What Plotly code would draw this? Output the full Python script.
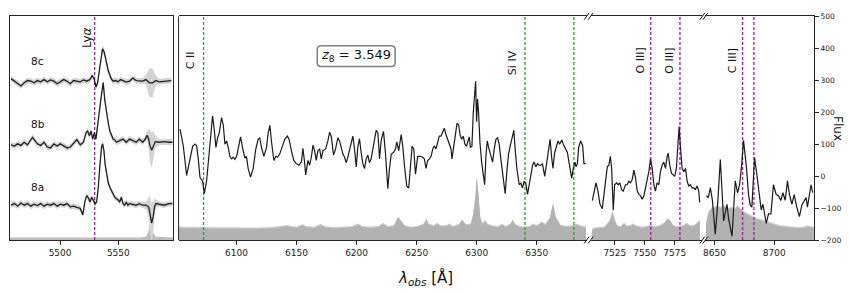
import plotly.graph_objects as go

W, H = 849, 294

# ---------------- data ----------------
left_ticks = [5500, 5550]
seg1_ticks = [6100, 6150, 6200, 6250, 6300, 6350]
seg2_ticks = [7525, 7550, 7575]
seg3_ticks = [8650, 8700]
flux_ticks = [-200, -100, 0, 100, 200, 300, 400, 500]

redshift_label = "3.549"
lya_line = 5529.7
green_lines = [6072.6, 6340.2, 6380.9]
purple_lines_seg2 = [7555.0, 7579.4]
purple_lines_seg3 = [8673.5, 8683.0]

# left panel spectra (relative flux) and offsets
lam_8c = [5457.9, 5460.7, 5463.6, 5466.4, 5469.2, 5472.0, 5474.9, 5477.7, 5480.5, 5483.3,
          5486.2, 5489.0, 5491.8, 5494.6, 5497.5, 5500.3, 5503.1, 5506.0, 5508.8, 5511.6,
          5514.4, 5517.2, 5520.1, 5522.9, 5525.7, 5527.7, 5529.4, 5530.8, 5532.2, 5533.6,
          5535.0, 5536.4, 5537.9, 5539.3, 5541.2, 5543.5, 5545.5, 5547.5, 5549.7, 5552.0,
          5554.2, 5556.8, 5559.6, 5562.4, 5565.3, 5568.1, 5570.9, 5573.7, 5576.6, 5579.4,
          5582.2, 5585.0, 5589.3, 5593.5, 5595.5]
flux_8c = [8, 0, -8, -15, -5, 2, 0, -5, 2, -2,
           5, -2, 4, 0, -8, -2, 5, 0, -8, 2,
           0, -2, 4, 0, 5, 18, 5, -18, -5, 30,
           76, 101, 91, 66, 35, 10, 0, 2, -2, 5,
           2, -3, 0, 10, 2, 0, 0, 5, -5, -5,
           2, -2, 0, 0, 2]
err_8c = [9, 9, 9, 9, 9, 9, 9, 9, 9, 9,
          9, 9, 9, 9, 9, 9, 9, 9, 9, 9,
          9, 9, 9, 9, 9, 9, 9, 9, 9, 10,
          12, 12, 12, 11, 10, 9, 9, 9, 9, 9,
          9, 9, 9, 9, 9, 9, 10, 15, 45, 45,
          15, 9, 9, 9, 9]

lam_8b = [5457.9, 5460.8, 5463.6, 5466.4, 5469.2, 5472.1, 5473.5, 5476.3, 5477.7, 5480.5,
          5483.4, 5486.2, 5489.0, 5491.8, 5494.7, 5497.5, 5500.3, 5503.1, 5506.0, 5508.8,
          5511.6, 5514.4, 5517.3, 5520.1, 5522.3, 5523.7, 5525.2, 5526.6, 5528.0, 5529.4,
          5530.8, 5532.8, 5534.2, 5535.6, 5537.0, 5538.4, 5539.9, 5541.3, 5542.7, 5544.1,
          5545.5, 5546.9, 5548.3, 5551.2, 5554.0, 5556.8, 5559.6, 5562.5, 5565.3, 5568.1,
          5570.9, 5573.2, 5574.6, 5576.0, 5577.1, 5578.6, 5580.0, 5581.7, 5585.1, 5589.3,
          5593.5, 5596.4]
flux_8b = [-8, -12, -5, -10, 0, -8, 0, 15, 8, -5,
           -10, 0, -15, -18, -5, -12, -5, -12, -18, -15,
           -5, 8, -8, 0, 30, 35, 20, 35, 10, 30,
           10, 60, 111, 151, 187, 131, 91, 61, 35, 20,
           10, 8, 0, 5, 10, 0, 10, 5, 0, 10,
           0, 10, 22, 10, -10, -25, -10, 2, 0, 2,
           0, 0]
err_8b = [9, 9, 9, 9, 9, 9, 9, 9, 9, 9,
          9, 9, 9, 9, 9, 9, 9, 9, 9, 9,
          9, 9, 9, 9, 9, 9, 9, 9, 9, 9,
          10, 12, 12, 12, 12, 11, 10, 9, 9, 9,
          9, 9, 9, 9, 9, 9, 9, 9, 9, 9,
          9, 10, 15, 30, 50, 55, 45, 20, 9, 9,
          9, 9]

lam_8a = [5457.9, 5460.8, 5463.6, 5466.4, 5469.2, 5472.1, 5474.9, 5477.7, 5480.5, 5483.4,
          5486.2, 5489.0, 5491.8, 5494.7, 5497.5, 5500.3, 5503.1, 5506.0, 5508.8, 5511.6,
          5514.4, 5517.3, 5519.5, 5521.5, 5522.9, 5524.3, 5525.7, 5527.1, 5528.6, 5530.0,
          5531.4, 5532.8, 5534.2, 5535.6, 5536.5, 5537.6, 5538.7, 5539.9, 5541.3, 5542.7,
          5544.1, 5545.5, 5546.9, 5548.3, 5549.7, 5551.2, 5552.6, 5554.0, 5555.4, 5556.8,
          5558.2, 5559.6, 5562.5, 5565.3, 5568.1, 5570.9, 5573.7, 5576.0, 5577.1, 5578.6,
          5580.0, 5581.1, 5582.3, 5585.1, 5589.3, 5593.5, 5596.4]
flux_8a = [0, 5, -3, 7, 0, 5, -3, 3, -1, 5,
           -3, 3, 0, 5, -3, 3, 0, 5, -5, -3,
           -7, -10, -30, 15, 30, 23, 10, 25, 15, 5,
           10, 56, 126, 182, 192, 172, 126, 96, 71, 56,
           45, 35, 25, 20, 17, 10, 25, 5, 0, 10,
           0, 5, 3, 0, 5, 0, 0, -5, -25, -56,
           -35, -5, 5, 3, 0, 5, 5]
err_8a = [9, 9, 9, 9, 9, 9, 9, 9, 9, 9,
          9, 9, 9, 9, 9, 9, 9, 9, 9, 9,
          9, 9, 9, 9, 9, 9, 9, 9, 9, 9,
          10, 12, 12, 12, 12, 12, 11, 10, 9, 9,
          9, 9, 9, 9, 9, 9, 9, 9, 9, 9,
          9, 9, 9, 9, 9, 9, 12, 30, 55, 60,
          50, 25, 12, 9, 9, 9, 9]

offset_8a, offset_8b, offset_8c = -91, 106, 297
left_labels = ["8a", "8b", "8c"]

left_sky_lam = [5457, 5570, 5574, 5576, 5577.5, 5579, 5582, 5597]
left_sky_top = [-192, -192, -188, -170, -145, -170, -190, -192]

# main panel spectrum, segment 1
seg1_lam = [6053.0, 6055.7, 6058.5, 6061.3, 6063.5, 6065.4, 6066.8, 6068.2, 6069.6, 6071.8,
            6073.2, 6075.1, 6077.1, 6078.7, 6080.1, 6081.5, 6082.9, 6084.3, 6085.7, 6087.6,
            6089.0, 6090.4, 6091.8, 6093.1, 6094.5, 6095.9, 6097.3, 6098.7, 6100.1, 6101.4,
            6103.4, 6105.0, 6107.0, 6108.3, 6109.7, 6111.7, 6113.9, 6116.1, 6118.0, 6119.4,
            6120.8, 6122.8, 6125.0, 6126.4, 6127.8, 6129.1, 6131.1, 6132.7, 6134.1, 6136.0,
            6138.3, 6140.2, 6142.4, 6143.8, 6145.7, 6147.7,
            6149.8, 6152.0, 6154.0, 6155.3, 6156.7, 6157.6, 6159.5, 6160.9, 6162.3, 6163.7,
            6165.0, 6166.4, 6167.8, 6169.2, 6170.6, 6172.0, 6174.2, 6176.1, 6177.5, 6178.9,
            6180.8, 6182.5, 6184.4, 6185.8, 6187.2, 6188.6, 6190.0, 6191.4, 6192.7, 6194.7,
            6196.9, 6198.3, 6199.7, 6201.0, 6202.4, 6203.8, 6205.2, 6206.6, 6208.0, 6209.4,
            6210.7, 6212.1, 6213.5, 6214.9, 6216.3, 6217.7, 6219.1, 6220.4, 6222.4, 6224.0,
            6226.0, 6227.4, 6228.8, 6230.7, 6232.4, 6233.5, 6235.1, 6237.1, 6238.4, 6239.8,
            6241.8, 6243.4, 6244.8, 6246.2, 6247.6, 6249.0,
            6250.9, 6252.8, 6255.0, 6256.4, 6257.8, 6259.2, 6260.6, 6262.0, 6263.4, 6264.7,
            6266.1, 6267.5, 6268.9, 6270.3, 6271.7, 6273.0, 6274.4, 6275.8, 6277.2, 6278.6,
            6279.4, 6280.5, 6282.2, 6283.6, 6285.0, 6286.1, 6287.4, 6288.8, 6290.2, 6291.6,
            6292.7, 6293.8, 6294.7, 6296.0, 6297.1, 6298.3, 6299.1, 6299.9, 6300.7, 6301.6,
            6302.7, 6304.1, 6304.9, 6306.6, 6307.7, 6308.8, 6309.9, 6311.8, 6313.2, 6314.6,
            6316.0, 6317.4, 6318.7, 6320.1, 6322.1, 6323.7, 6325.1, 6326.5, 6327.9, 6329.3,
            6330.9, 6332.0, 6333.4, 6335.4, 6336.8, 6338.1, 6339.5, 6340.9, 6342.3, 6343.7,
            6345.1, 6346.5, 6347.8, 6349.2, 6350.6, 6352.0,
            6353.3, 6354.7, 6356.6, 6358.3, 6359.7, 6361.1, 6362.4, 6363.5, 6364.9, 6366.3,
            6367.7, 6369.1, 6370.8, 6372.1, 6374.1, 6375.5, 6376.8, 6378.2, 6379.1, 6380.4,
            6381.8, 6382.7, 6383.8, 6384.9, 6386.5, 6388.2, 6389.3, 6390.7]
seg1_flux = [147, 95, 2, 54, 93, 100, 95, 54, -4, -16,
             -55, -16, 74, 145, 189, 145, 90, 120, 135, 183,
             160, 100, 110, 90, 62, 54, 59, 52, 62, 85,
             123, 90, 56, 62, 24, -3, 24, 85, 115, 120,
             90, 62, 90, 135, 159, 110, 49, 62, 59, 69,
             95, 115, 125, 115, 80, 49,
             39, 34, 44, 87, 44, 4, 49, 34, 59, 97,
             80, 49, 80, 85, 54, 80, 85, 110, 137, 125,
             66, 85, 120, 110, 90, 69, 59, 42, 59, 93,
             125, 85, 29, 90, 117, 74, 39, 24, 54, 66,
             42, 54, 85, 113, 143, 135, 54, 110, 140, 74,
             -39, 24, 68, 74, 85, 107, 80, 130, 95, 34,
             -32, -37, 44, 93, 85, 6,
             62, 62, 59, 54, 24, 49, 54, 62, 85, 95,
             85, 105, 125, 125, 140, 150, 130, 115, 100, 85,
             54, 85, 140, 165, 160, 130, 115, 125, 100, 93,
             110, 123, 90, 93, 196, 271, 297, 170, 241, 196,
             105, 44, 24, -27, 64, 110, 90, 59, 44, 85,
             115, 120, 100, 54, -16, -55, 14, 69, 95, 115,
             143, 85, 24, -27, -22, -37, -16, -22, -57, -27,
             9, 34, 44, 29, 39, 34,
             34, 39, -1, 44, 85, 115, 59, 24, 74, 90,
             110, 100, 113, 100, 85, 74, 44, 9, -6, 24,
             44, 29, 39, 90, 110, 95, 39, 39]

seg2_lam = [7506.2, 7507.5, 7509.2, 7510.9, 7512.5, 7514.5, 7515.9, 7517.3, 7518.7, 7520.0,
            7521.2, 7522.3, 7523.7, 7524.8, 7526.4, 7527.8, 7529.2, 7530.6, 7532.0, 7533.9,
            7535.3, 7536.7, 7538.1, 7539.5, 7540.9, 7542.3, 7543.7, 7545.1, 7546.5, 7547.8,
            7549.2, 7550.6, 7552.0, 7553.4, 7554.8, 7556.2, 7557.6, 7558.9, 7560.3, 7561.7,
            7563.1, 7564.5, 7565.9, 7567.3, 7568.7, 7569.5, 7570.9, 7572.3, 7573.7, 7575.0,
            7576.4, 7577.8, 7578.7, 7579.8, 7581.2, 7582.6, 7584.0, 7585.4, 7586.7, 7588.1,
            7589.5, 7590.9, 7592.3, 7593.7, 7595.1, 7595.9]
seg2_flux = [-77, -47, -21, -47, -87, -102, -57, 4, 29, 34,
             62, 24, -107, -27, -21, -27, -21, -42, -47, -27,
             -27, -16, -21, -11, 19, -6, -47, -57, -62, -72,
             -62, -37, -11, 14, 54, 24, -27, -47, -21, -27,
             14, 34, 44, 24, 62, 72, 34, 9, 4, -1,
             24, 95, 155, 90, 24, 14, 24, -16, -31, -27,
             -37, -37, -42, -31, -47, -82]

seg3_lam = [8643.3, 8644.9, 8646.6, 8648.3, 8650.7, 8652.8, 8654.9, 8657.7, 8660.5, 8661.8,
            8664.7, 8667.4, 8669.3, 8671.0, 8672.7, 8674.3, 8676.6, 8678.5, 8679.9, 8681.3,
            8682.7, 8683.5, 8685.5, 8687.7, 8689.1, 8690.5, 8691.6, 8693.3, 8695.2, 8697.2,
            8699.3, 8701.6, 8703.5, 8705.5, 8707.2, 8709.1, 8711.0, 8712.7, 8714.7, 8716.6,
            8718.8, 8721.0, 8723.0, 8724.9, 8726.6, 8727.7, 8729.3, 8730.7, 8732.1]
seg3_flux = [-61, -67, -36, -76, -182, -82, 52, -140, -88, -133,
             -188, -15, -52, -27, 33, 112, 33, -58, -91, -97,
             3, 58, 3, -67, -106, -88, -118, -148, -118, -118,
             -27, -58, -61, -76, -52, -76, -15, -58, -88, -58,
             -97, -127, -91, -76, -67, -97, -58, -27, -52]

# noise (gray shading) upper level per segment
noise1_lam = [6051.8, 6060, 6070, 6080, 6090, 6100, 6110, 6120, 6130, 6138, 6142, 6146, 6150,
              6155, 6158, 6165, 6170, 6174, 6180, 6190, 6196, 6201, 6205, 6212, 6218, 6222,
              6226, 6231, 6234.5, 6237, 6240, 6245, 6250, 6256, 6258, 6260, 6264, 6267, 6270,
              6275, 6277, 6280, 6285, 6288, 6291, 6295, 6297, 6299, 6300, 6301.5, 6303, 6305,
              6307, 6309, 6313, 6318, 6321, 6324, 6328, 6330, 6332, 6336, 6340, 6344, 6347,
              6350, 6354.5, 6357, 6361, 6363.5, 6366, 6370, 6375, 6380, 6383, 6386, 6391]
noise1_top = [-162, -163, -163, -164, -164, -165, -164, -165, -163, -159, -157, -160, -162,
              -154, -160, -162, -154, -161, -163, -162, -160, -152, -160, -162, -160, -150,
              -160, -157, -130, -142, -157, -162, -160, -152, -135, -152, -158, -150, -158,
              -157, -152, -159, -154, -140, -154, -152, -122, -62, -3, -62, -132, -152,
              -140, -152, -158, -160, -152, -160, -152, -140, -152, -160, -162, -159, -152,
              -157, -145, -154, -132, -87, -132, -157, -159, -157, -152, -157, -162]
noise2_lam = [7506, 7508, 7512, 7516, 7519, 7521, 7523, 7525, 7527, 7530, 7532.5, 7535, 7538,
              7540, 7543, 7547, 7551, 7555, 7558, 7562, 7566, 7569, 7571, 7574, 7578, 7582,
              7585, 7588, 7592, 7595, 7596]
noise2_top = [-168, -165, -163, -162, -150, -140, -112, -140, -158, -160, -150, -158, -157,
              -152, -158, -162, -160, -155, -160, -158, -150, -135, -140, -158, -160, -157,
              -150, -158, -155, -145, -140]
noise3_lam = [8643, 8645, 8648, 8650, 8652, 8655, 8658, 8661, 8664, 8667, 8669, 8672, 8675,
              8680, 8685, 8690, 8695, 8700, 8705, 8710, 8715, 8720, 8725, 8728, 8730, 8733]
noise3_top = [-150, -115, -100, -100, -95, -100, -95, -105, -100, -105, -95, -105, -115,
              -125, -135, -140, -145, -152, -158, -160, -163, -163, -162, -158, -160, -162]

# ---------------- layout helpers (pixel geometry) ----------------
def px(X):
    return X / W


def py(Y):
    return 1 - Y / H


Y_TOP, Y_BOT = 12.7, 243.5
ydom = [py(Y_BOT), py(Y_TOP)]
LINE_C = "#262626"
FONT = "DejaVu Sans"

fig = go.Figure()


def poly(lam, top, base=-200):
    return lam + [lam[-1], lam[0]], top + [base, base]


# ---- left panel ----
sx, sy = poly(left_sky_lam, left_sky_top)
fig.add_trace(go.Scatter(x=sx, y=sy, fill="toself", fillcolor="#bdbdbd", line=dict(width=0),
                         mode="lines", xaxis="x", yaxis="y", hoverinfo="skip"))
for lam, fl, er, off in [(lam_8a, flux_8a, err_8a, offset_8a),
                         (lam_8b, flux_8b, err_8b, offset_8b),
                         (lam_8c, flux_8c, err_8c, offset_8c)]:
    assert len(lam) == len(fl) == len(er)
    up = [f + off + e for f, e in zip(fl, er)]
    lo = [f + off - e for f, e in zip(fl, er)]
    fig.add_trace(go.Scatter(x=lam + lam[::-1], y=up + lo[::-1], fill="toself",
                             fillcolor="#d4d4d4", line=dict(width=0), mode="lines",
                             xaxis="x", yaxis="y", hoverinfo="skip"))
fig.add_trace(go.Scatter(x=[lya_line, lya_line], y=[-200, 500], mode="lines",
                         line=dict(color="#7d1f86", width=1.2, dash="3px,2px"),
                         xaxis="x", yaxis="y"))
for lam, fl, off in [(lam_8a, flux_8a, offset_8a), (lam_8b, flux_8b, offset_8b),
                     (lam_8c, flux_8c, offset_8c)]:
    fig.add_trace(go.Scatter(x=lam, y=[f + off for f in fl], mode="lines",
                             line=dict(color="#1f1f1f", width=1.3), xaxis="x", yaxis="y"))

# ---- main panel ----
segs = [("x2", seg1_lam, seg1_flux, noise1_lam, noise1_top),
        ("x3", seg2_lam, seg2_flux, noise2_lam, noise2_top),
        ("x4", seg3_lam, seg3_flux, noise3_lam, noise3_top)]
for xa, lam, fl, nl, nt in segs:
    assert len(lam) == len(fl) and len(nl) == len(nt)
    lx, ly = poly(nl, [t + 4 for t in nt])
    fig.add_trace(go.Scatter(x=lx, y=ly, fill="toself", fillcolor="#cccccc", line=dict(width=0),
                             mode="lines", xaxis=xa, yaxis="y2", hoverinfo="skip"))
    dx, dy = poly(nl, nt)
    fig.add_trace(go.Scatter(x=dx, y=dy, fill="toself", fillcolor="#b2b2b2", line=dict(width=0),
                             mode="lines", xaxis=xa, yaxis="y2", hoverinfo="skip"))

for lv in green_lines:
    fig.add_trace(go.Scatter(x=[lv, lv], y=[-200, 500], mode="lines",
                             line=dict(color="#2ca02c", width=1.3, dash="3px,2px"),
                             xaxis="x2", yaxis="y2"))
for xa, lines in [("x3", purple_lines_seg2), ("x4", purple_lines_seg3)]:
    for lv in lines:
        fig.add_trace(go.Scatter(x=[lv, lv], y=[-200, 500], mode="lines",
                                 line=dict(color="#9a1f9a", width=1.3, dash="3px,2px"),
                                 xaxis=xa, yaxis="y2"))
for xa, lam, fl, nl, nt in segs:
    fig.add_trace(go.Scatter(x=lam, y=fl, mode="lines", line=dict(color="#1a1a1a", width=1.2),
                             xaxis=xa, yaxis="y2"))

# ---- axes ----
xcommon = dict(showline=True, mirror=True, linecolor=LINE_C, linewidth=1, showgrid=False,
               zeroline=False, ticks="outside", ticklen=4, tickwidth=1, tickcolor=LINE_C,
               tickfont=dict(family=FONT, size=9, color="#222"))
layout = dict(
    width=W, height=H, margin=dict(l=0, r=0, t=0, b=0),
    paper_bgcolor="white", plot_bgcolor="white", showlegend=False,
    font=dict(family=FONT, color="#111"),
    xaxis=dict(domain=[px(8), px(171.5)], range=[5457, 5597], anchor="y",
               tickvals=left_ticks, **xcommon),
    yaxis=dict(domain=ydom, range=[-200, 500], anchor="x", showline=True, mirror=True,
               linecolor=LINE_C, linewidth=1, showgrid=False, zeroline=False,
               showticklabels=False, ticks=""),
    xaxis2=dict(domain=[px(177), px(586)], range=[6051.8, 6391.5], anchor="y2",
                tickvals=seg1_ticks, **xcommon),
    xaxis3=dict(domain=[px(590), px(702)], range=[7504.75, 7598.1], anchor="y2",
                tickvals=seg2_ticks, **xcommon),
    xaxis4=dict(domain=[px(705), px(814)], range=[8642.4, 8733.25], anchor="y2",
                tickvals=seg3_ticks, **xcommon),
    yaxis2=dict(domain=ydom, range=[-200, 500], anchor="x4", side="right", showline=True,
                linecolor=LINE_C, linewidth=1, showgrid=False, zeroline=False,
                ticks="outside", ticklen=4, tickwidth=1, tickcolor=LINE_C,
                tickvals=flux_ticks, tickfont=dict(family=FONT, size=7.5, color="#222")),
)
fig.update_layout(**layout)

# spine at left of main panel + break marks
shapes = [dict(type="line", xref="paper", yref="paper", x0=px(177), x1=px(177),
               y0=ydom[0], y1=ydom[1], line=dict(color=LINE_C, width=1))]
for Xb in [586, 590, 702, 705]:
    for Yb in [Y_TOP, Y_BOT]:
        shapes.append(dict(type="line", xref="paper", yref="paper",
                           x0=px(Xb - 2.5), y0=py(Yb + 3.5), x1=px(Xb + 2.5), y1=py(Yb - 3.5),
                           line=dict(color="#111", width=1)))

# rounded box around the redshift label
bx0, bx1, by0, by1, r = 316, 394, 43, 64.5, 4
box_path = (f"M {px(bx0 + r)},{py(by0)} L {px(bx1 - r)},{py(by0)} "
            f"Q {px(bx1)},{py(by0)} {px(bx1)},{py(by0 + r)} L {px(bx1)},{py(by1 - r)} "
            f"Q {px(bx1)},{py(by1)} {px(bx1 - r)},{py(by1)} L {px(bx0 + r)},{py(by1)} "
            f"Q {px(bx0)},{py(by1)} {px(bx0)},{py(by1 - r)} L {px(bx0)},{py(by0 + r)} "
            f"Q {px(bx0)},{py(by0)} {px(bx0 + r)},{py(by0)} Z")
shapes.append(dict(type="path", xref="paper", yref="paper", path=box_path,
                   line=dict(color="#808080", width=1.5), fillcolor="white", layer="above"))
fig.update_layout(shapes=shapes)

ann = []
# left labels
for lab, Yc in zip(left_labels, [189, 124, 59]):
    ann.append(dict(text=lab, x=px(27), y=py(Yc), xref="paper", yref="paper",
                    xanchor="left", yanchor="middle", showarrow=False,
                    font=dict(family=FONT, size=10.5, color="#111")))
ann.append(dict(text="Ly<i>α</i>", x=lya_line, xref="x", y=py(35), yref="paper",
                xshift=-7.5, textangle=-90, showarrow=False, xanchor="center", yanchor="middle",
                font=dict(family=FONT, size=12, color="#111")))
line_labels = [("C II", green_lines[0], "x2", -13, 58.5),
               ("Si IV", green_lines[1], "x2", -13, 61),
               ("O III]", purple_lines_seg2[0], "x3", -10, 58.5),
               ("O III]", purple_lines_seg2[1], "x3", -10, 58.5),
               ("C III]", purple_lines_seg3[0], "x4", -10, 58.5)]
for txt, lv, xa, sh, Yc in line_labels:
    ann.append(dict(text=txt, x=lv, xref=xa, y=py(Yc), yref="paper", xshift=sh,
                    textangle=-90, showarrow=False, xanchor="center", yanchor="middle",
                    font=dict(family=FONT, size=11, color="#111")))
ann.append(dict(text="<i>z</i><sub>8</sub> = " + redshift_label, x=px(355), y=py(53.5),
                xref="paper", yref="paper", showarrow=False, xanchor="center", yanchor="middle",
                font=dict(family=FONT, size=13, color="#111")))
ann.append(dict(text="<i>λ</i><sub><i>obs</i></sub> [Å]", x=px(424), y=py(283), xref="paper",
                yref="paper", showarrow=False, xanchor="center", yanchor="middle",
                font=dict(family=FONT, size=15, color="#111")))
ann.append(dict(text="Flux", x=px(838), y=py(128), xref="paper", yref="paper",
                textangle=90, showarrow=False, xanchor="center", yanchor="middle",
                font=dict(family=FONT, size=12, color="#111")))
fig.update_layout(annotations=ann)

fig.write_html("out.html", config={"displayModeBar": False},
               post_script="document.body.style.margin='0';document.body.style.overflow='hidden';")
